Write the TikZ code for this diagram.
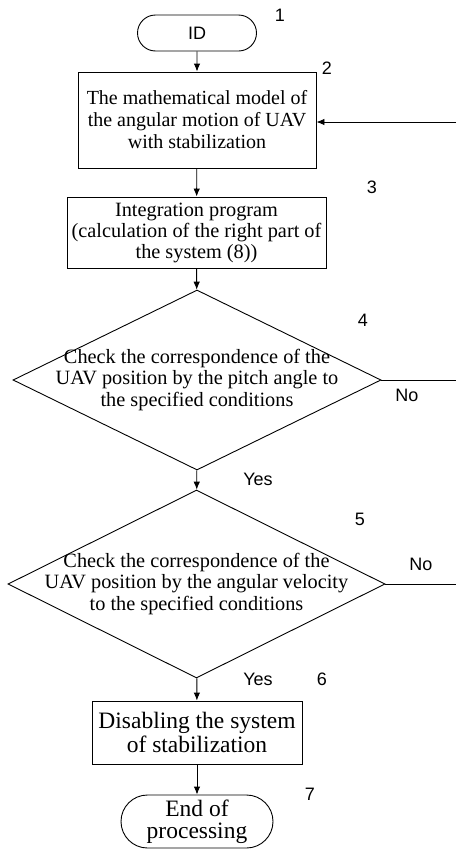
\documentclass[tikz,border=0pt]{standalone}
\usepackage{fontspec}
\setmainfont{Liberation Serif}
\newfontfamily\labelfont{Liberation Sans}
\usetikzlibrary{shapes.geometric,shapes.misc,arrows.meta}

\tikzset{
  every path/.style={line width=0.9pt},
  block/.style={draw=black,shape=rectangle,align=center,inner sep=0pt,
    font=\fontsize{20}{22}\selectfont},
  terminal/.style={draw=black,shape=rounded rectangle,align=center,inner sep=0pt},
  decision/.style={draw=black,shape=diamond,aspect=2,align=center,
    inner xsep=-40pt,inner ysep=-10pt,font=\fontsize{20.3}{21.5}\selectfont},
  tag/.style={font=\labelfont\fontsize{18}{18}\selectfont,inner sep=0pt},
  flow/.style={-{Latex[length=8pt,width=6.5pt]}}
}

\begin{document}
\begin{tikzpicture}[x=1pt,y=-1pt]
\useasboundingbox (0,0) rectangle (456,849);

\node[terminal,minimum width=119,minimum height=36,font=\labelfont\fontsize{18}{18}\selectfont] (start) at (197,33) {ID};
\node[block,minimum width=238,minimum height=96] (model) at (197,120) {The mathematical model of\\the angular motion of UAV\\with stabilization};
\node[block,minimum width=259,minimum height=71,font=\fontsize{20.3}{21}\selectfont] (integ) at (196.5,232.5) {Integration program\\(calculation of the right part of\\the system (8))};
\node[decision,minimum width=368,minimum height=180] (pitch) at (197,380) {Check the correspondence of the\\UAV position by the pitch angle to\\the specified conditions};
\node[decision,minimum width=377,minimum height=188] (velo) at (196.5,584) {Check the correspondence of the\\UAV position by the angular velocity\\to the specified conditions};
\node[block,minimum width=210,minimum height=63,font=\fontsize{23.5}{23.5}\selectfont] (disable) at (197,732.5) {Disabling the system\\of stabilization};
\node[terminal,minimum width=152,minimum height=53,font=\fontsize{23.5}{22}\selectfont] (stop) at (197,821.5) {End of\\processing};

\coordinate (back) at (456,122);

\node[tag] (n1) at (280,15) {1};
\node[tag] (n2) at (327,68) {2};
\node[tag] (n3) at (372,187) {3};
\node[tag] (n4) at (363,320) {4};
\node[tag] (n5) at (360,519) {5};
\node[tag] (n6) at (322,679) {6};
\node[tag] (n7) at (310,794) {7};
\node[tag] (no4) at (407,395) {No};
\node[tag] (no5) at (421,564) {No};
\node[tag] (yes4) at (258,479) {Yes};
\node[tag] (yes5) at (258,679) {Yes};

\draw[flow] (start) -- (model);
\draw[flow] (model) -- (integ);
\draw[flow] (integ) -- (pitch);
\draw[flow] (pitch) -- (velo);
\draw[flow] (velo) -- (disable);
\draw[flow] (disable) -- (stop);
\draw[flow] (back) -- (back -| model.east);
\draw (pitch.east) -- (pitch.east -| back);
\draw (velo.east) -- (velo.east -| back);
\end{tikzpicture}
\end{document}
